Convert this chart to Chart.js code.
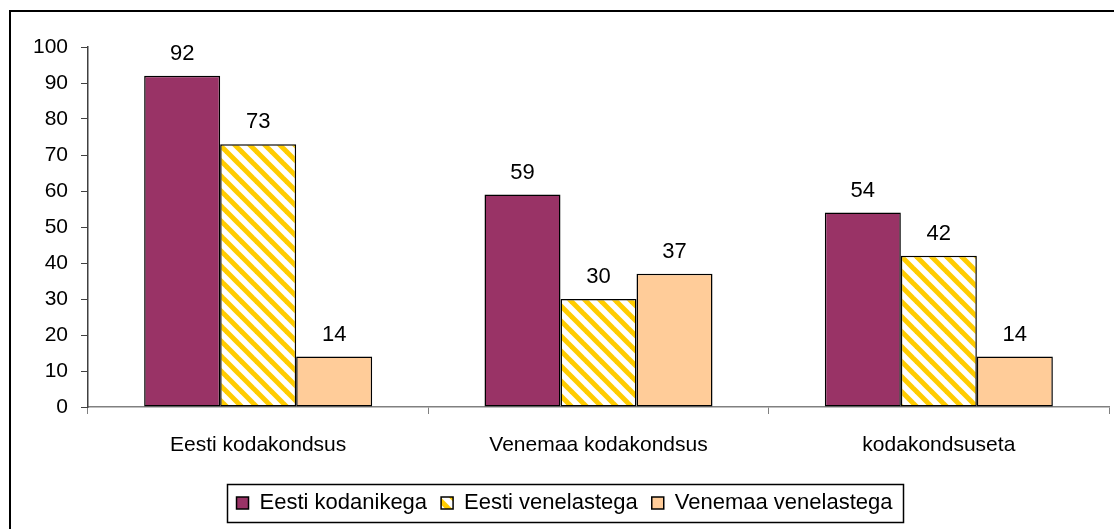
<!DOCTYPE html>
<html>
<head>
<meta charset="utf-8">
<script src="https://cdn.jsdelivr.net/npm/chart.js@4/dist/chart.umd.min.js"></script>
<style>
    html, body { margin: 0; padding: 0; background: #fff; }
    #wrap { width: 1114px; height: 529px; position: relative; }
</style>
</head>
<body>
<div id="wrap"><canvas id="chart" width="1114" height="529"></canvas></div>
<script>
"use strict";

// data
var categories = ['Eesti kodakondsus', 'Venemaa kodakondsus', 'kodakondsuseta'];
var seriesNames = ['Eesti kodanikega', 'Eesti venelastega', 'Venemaa venelastega'];
var eestiKodanikega = [92, 59, 54];
var eestiVenelastega = [73, 30, 42];
var venemaaVenelastega = [14, 37, 14];
var yTicks = [0, 10, 20, 30, 40, 50, 60, 70, 80, 90, 100];

var FONT = "'Liberation Sans', Arial, sans-serif";

// yellow diagonal stripes on white
var stripePattern = function () {
    var s = 15;
    var c = document.createElement('canvas');
    c.width = s;
    c.height = s;
    var g = c.getContext('2d');
    g.fillStyle = '#ffffff';
    g.fillRect(0, 0, s, s);
    g.strokeStyle = '#ffcc00';
    g.lineWidth = 5;
    [[0, 0, s, s], [-s, 0, s, 2 * s], [0, -s, 2 * s, s]].forEach(function (l) {
        g.beginPath();
        g.moveTo(l[0], l[1]);
        g.lineTo(l[2], l[3]);
        g.stroke();
    });
    return g.createPattern(c, 'repeat');
};

var frame = {
    id: 'frame',
    beforeDraw: function (chart) {
        var ctx = chart.ctx;
        ctx.save();
        ctx.fillStyle = '#fff';
        ctx.fillRect(0, 0, chart.width, chart.height);
        ctx.restore();
    },
    afterDraw: function (chart) {
        var ctx = chart.ctx;
        ctx.save();
        // outer chart border (right and bottom run off the picture)
        ctx.strokeStyle = '#000';
        ctx.lineWidth = 2;
        ctx.strokeRect(10, 11, 1120, 540);
        // legend box
        var boxes = chart.legend.legendHitBoxes;
        if (boxes && boxes.length) {
            var l = Math.min.apply(null, boxes.map(function (b) { return b.left; })) - 10;
            var r = Math.max.apply(null, boxes.map(function (b) { return b.left + b.width; })) + 10;
            var t = boxes[0].top - 8;
            var btm = boxes[0].top + boxes[0].height + 8;
            ctx.lineWidth = 1.5;
            ctx.strokeRect(Math.round(l) + 0.5, Math.round(t) + 0.5, Math.round(r - l), Math.round(btm - t));
        }
        ctx.restore();
    }
};

// value labels above the bars
var valueLabels = {
    id: 'valueLabels',
    afterDatasetsDraw: function (chart) {
        var ctx = chart.ctx;
        ctx.save();
        ctx.font = '22px ' + FONT;
        ctx.fillStyle = '#000';
        ctx.textAlign = 'center';
        ctx.textBaseline = 'bottom';
        chart.data.datasets.forEach(function (ds, i) {
            chart.getDatasetMeta(i).data.forEach(function (bar, j) {
                ctx.fillText(String(ds.data[j]), bar.x, bar.y - 11);
            });
        });
        ctx.restore();
    }
};

var barStyle = function (label, data, fill) {
    return {
        label: label,
        data: data,
        backgroundColor: fill,
        borderColor: '#000',
        borderWidth: 1.5,
        borderSkipped: false,
        categoryPercentage: 0.67,
        barPercentage: 1
    };
};

new Chart(document.getElementById('chart').getContext('2d'), {
    type: 'bar',
    data: {
        labels: categories,
        datasets: [
            barStyle(seriesNames[0], eestiKodanikega, '#993366'),
            barStyle(seriesNames[1], eestiVenelastega, stripePattern()),
            barStyle(seriesNames[2], venemaaVenelastega, '#ffcc99')
        ]
    },
    options: {
        responsive: false,
        animation: false,
        devicePixelRatio: 1,
        layout: {
            padding: { left: 20, top: 47, right: 5, bottom: 5 }
        },
        plugins: {
            tooltip: { enabled: false },
            legend: {
                position: 'bottom',
                labels: {
                    font: { family: FONT, size: 22 },
                    color: '#000',
                    boxWidth: 12,
                    boxHeight: 12,
                    padding: 14
                }
            }
        },
        scales: {
            x: {
                grid: {
                    drawOnChartArea: false,
                    drawTicks: true,
                    tickLength: 7,
                    color: '#808080',
                    offset: true
                },
                border: { color: '#808080', width: 1.5 },
                ticks: {
                    font: { family: FONT, size: 21 },
                    color: '#000',
                    padding: 19
                },
                afterFit: function (scale) { scale.height = 71; }
            },
            y: {
                min: 0,
                max: 100,
                afterBuildTicks: function (scale) {
                    scale.ticks = yTicks.map(function (v) { return { value: v }; });
                },
                grid: {
                    drawOnChartArea: false,
                    drawTicks: true,
                    tickLength: 7,
                    color: '#404040'
                },
                border: { color: '#404040', width: 1.5 },
                ticks: {
                    font: { family: FONT, size: 21 },
                    color: '#000',
                    padding: 13
                },
                afterFit: function (scale) { scale.width = 68; }
            }
        }
    },
    plugins: [frame, valueLabels]
});
</script>
</body>
</html>
